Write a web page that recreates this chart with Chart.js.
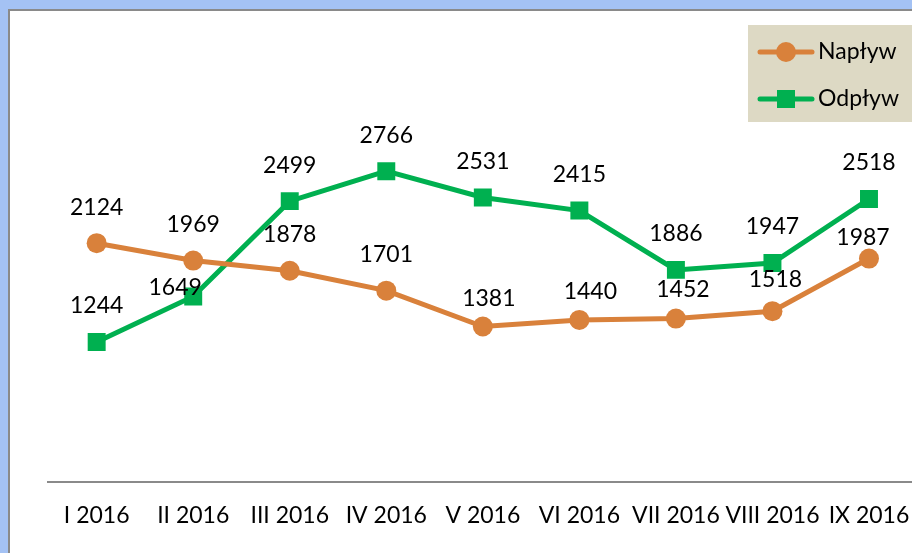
<!DOCTYPE html>
<html>
<head>
<meta charset="utf-8">
<script src="https://cdn.jsdelivr.net/npm/chart.js@4.4.1/dist/chart.umd.min.js"></script>
<style>
  html, body { margin: 0; padding: 0; width: 912px; height: 553px; overflow: hidden; background: #A4C2F4; }
  #frame { position: absolute; left: 8px; top: 9px; width: 960px; height: 600px; background: #ffffff;
           border-top: 2px solid #8a8a8a; border-left: 2px solid #8a8a8a; }
  #wrap { position: absolute; left: 0; top: 0; width: 930px; height: 553px; }
  canvas { display: block; }
</style>
</head>
<body>
<div id="frame"></div>
<div id="wrap"><canvas id="c" width="930" height="553"></canvas></div>
<script>
const categories = ['I 2016', 'II 2016', 'III 2016', 'IV 2016', 'V 2016', 'VI 2016', 'VII 2016', 'VIII 2016', 'IX 2016'];
const seriesNames = ['Napływ', 'Odpływ'];
const naplyw = [2124, 1969, 1878, 1701, 1381, 1440, 1452, 1518, 1987];
const odplyw = [1244, 1649, 2499, 2766, 2531, 2415, 1886, 1947, 2518];

const ORANGE = '#D9813B';
const GREEN = '#00B050';
const FONT = 'Lato, "Open Sans", sans-serif';

// label nudges (pixel offsets relative to the default label spot above each point)
const labelNudge = [
  [[0,0],[0,0],[0,0],[0,0],[6,8],[11,8],[7,7],[3,4],[-6,15]],
  [[0,0],[-18,27],[0,0],[0,0],[0,0],[0,0],[0,0],[0,0],[0,0]]
];

const dataLabels = {
  id: 'dataLabels',
  afterDatasetsDraw(chart) {
    const ctx = chart.ctx;
    ctx.save();
    ctx.font = '23px ' + FONT;
    ctx.fillStyle = '#000000';
    ctx.textAlign = 'center';
    ctx.textBaseline = 'middle';
    chart.data.datasets.forEach((ds, di) => {
      const meta = chart.getDatasetMeta(di);
      meta.data.forEach((el, i) => {
        const n = labelNudge[di][i];
        ctx.fillText(String(ds.data[i]), el.x + n[0], el.y - 36 + n[1]);
      });
    });
    ctx.restore();
  }
};

const customLegend = {
  id: 'customLegend',
  afterDraw(chart) {
    const ctx = chart.ctx;
    ctx.save();
    ctx.fillStyle = '#DDD9C4';
    ctx.fillRect(748, 25, 200, 97);
    const rows = [52, 99];
    chart.data.datasets.forEach((ds, di) => {
      const y = rows[di];
      ctx.strokeStyle = ds.borderColor;
      ctx.lineWidth = 5;
      ctx.lineCap = 'round';
      ctx.beginPath();
      ctx.moveTo(760, y);
      ctx.lineTo(812, y);
      ctx.stroke();
      ctx.fillStyle = ds.borderColor;
      if (ds.pointStyle === 'circle') {
        ctx.beginPath();
        ctx.arc(786, y, 10, 0, Math.PI * 2);
        ctx.fill();
      } else {
        ctx.fillRect(777, y - 9, 18, 18);
      }
      ctx.fillStyle = '#000000';
      ctx.font = '23px ' + FONT;
      ctx.textAlign = 'left';
      ctx.textBaseline = 'middle';
      ctx.fillText(ds.label, 818, y);
    });
    ctx.restore();
  }
};

new Chart(document.getElementById('c'), {
  type: 'line',
  data: {
    labels: categories,
    datasets: [
      {
        label: seriesNames[0], data: naplyw,
        borderColor: ORANGE, backgroundColor: ORANGE,
        borderWidth: 5, pointStyle: 'circle', pointRadius: 10, pointHoverRadius: 10,
        pointBorderWidth: 0, tension: 0
      },
      {
        label: seriesNames[1], data: odplyw,
        borderColor: GREEN, backgroundColor: GREEN,
        borderWidth: 5, pointStyle: 'rect', pointRadius: 12.7, pointHoverRadius: 12.7,
        pointBorderWidth: 0, tension: 0
      }
    ]
  },
  options: {
    responsive: false,
    animation: false,
    events: [],
    layout: { padding: { left: 48.4, right: 11.4, top: 32.7, bottom: 21.5 } },
    plugins: { legend: { display: false }, tooltip: { enabled: false } },
    scales: {
      x: {
        offset: true,
        grid: { display: false, drawTicks: false },
        border: { display: true, color: '#8a8a8a', width: 2 },
        ticks: { color: '#000000', font: { family: FONT, size: 23 }, padding: 20, maxRotation: 0, autoSkip: false },
        afterFit(scale) { scale.height = 50; }
      },
      y: {
        display: false,
        min: 0, max: 4000
      }
    }
  },
  plugins: [dataLabels, customLegend]
});
</script>
</body>
</html>
